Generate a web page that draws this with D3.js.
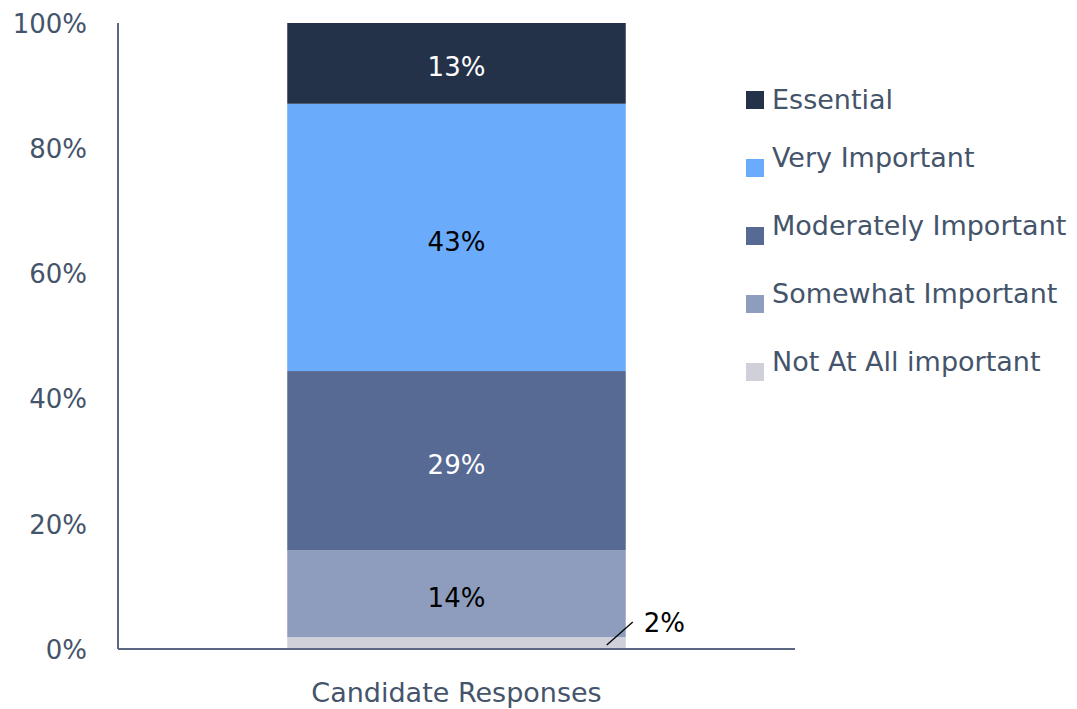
<!DOCTYPE html>
<html>
<head>
<meta charset="utf-8">
<script src="https://cdn.jsdelivr.net/npm/d3@7"></script>
<style>
  html, body { margin: 0; padding: 0; background: #ffffff; }
  svg { display: block; }
  text { font-family: "DejaVu Sans", sans-serif; }
</style>
</head>
<body>
<svg id="chart" width="1077" height="709"></svg>
<script>
// Survey answers, stacked bottom to top
const categories = ["Candidate Responses"];
const levels = ["Not At All important", "Somewhat Important", "Moderately Important", "Very Important", "Essential"];
const shares = [1.9, 13.9, 28.6, 42.7, 12.9];
const levelColors = ["#cfd0d9", "#8e9dbd", "#566a93", "#6aabfc", "#243249"];
const labelColors = ["#000000", "#000000", "#ffffff", "#000000", "#ffffff"];
const yTicks = [0, 20, 40, 60, 80, 100];
const legendOrder = ["Essential", "Very Important", "Moderately Important", "Somewhat Important", "Not At All important"];

const axisText = "#44546a";
const axisLine = "#5b6782";

const svg = d3.select("#chart");
const plot = { left: 118, right: 795, top: 23, bottom: 649 };

const x = d3.scaleBand().domain(categories).range([plot.left, plot.right])
  .paddingInner(0).paddingOuter(0.5);
const y = d3.scaleLinear().domain([0, 100]).range([plot.bottom, plot.top]);
const pct = d => d3.format(".0f")(d) + "%";

// Stack the segments
const row = { cat: categories[0] };
levels.forEach((l, i) => row[l] = shares[i]);
const stacked = d3.stack().keys(levels)([row]);

const bars = svg.append("g");
stacked.forEach((s, i) => {
  const d = s[0];
  bars.append("rect")
    .attr("x", x(d.data.cat))
    .attr("width", x.bandwidth())
    .attr("y", y(d[1]))
    .attr("height", y(d[0]) - y(d[1]))
    .attr("fill", levelColors[i]);
});

// Value labels inside segments (the smallest gets a leader line)
stacked.forEach((s, i) => {
  const d = s[0];
  const mid = (y(d[0]) + y(d[1])) / 2;
  if (shares[i] < 5) {
    const xr = x(d.data.cat) + x.bandwidth();
    bars.append("line")
      .attr("x1", xr - 19).attr("y1", mid + 2)
      .attr("x2", xr + 7).attr("y2", mid - 21)
      .attr("stroke", "#000").attr("stroke-width", 1.3);
    bars.append("text")
      .attr("x", xr + 18).attr("y", mid - 11)
      .attr("font-size", 26).attr("fill", labelColors[i])
      .text(pct(shares[i]));
  } else {
    bars.append("text")
      .attr("x", x(d.data.cat) + x.bandwidth() / 2)
      .attr("y", mid + 4)
      .attr("dy", "0.35em")
      .attr("text-anchor", "middle")
      .attr("font-size", 26).attr("fill", labelColors[i])
      .text(pct(shares[i]));
  }
});

// Y axis
const yAxis = svg.append("g")
  .attr("transform", `translate(${plot.left},0)`)
  .call(d3.axisLeft(y).tickValues(yTicks).tickSize(0).tickPadding(31).tickFormat(d => d + "%"));
yAxis.select(".domain").attr("stroke", axisLine).attr("stroke-width", 2)
  .attr("d", `M0,${plot.top}V${plot.bottom}`);
yAxis.selectAll("text").attr("font-size", 26).attr("fill", axisText)
  .attr("font-family", "DejaVu Sans").attr("dy", "0.36em");

// X axis
const xAxis = svg.append("g")
  .attr("transform", `translate(0,${plot.bottom})`)
  .call(d3.axisBottom(x).tickSize(0).tickPadding(34));
xAxis.select(".domain").attr("stroke", axisLine).attr("stroke-width", 2)
  .attr("d", `M${plot.left},0H${plot.right}`);
xAxis.selectAll("text").attr("font-size", 27).attr("fill", axisText)
  .attr("font-family", "DejaVu Sans").attr("dy", "0.71em");

// Legend
const legendBaselines = [109, 167, 235, 303, 371];
const legend = svg.append("g");
legendOrder.forEach((name, i) => {
  const idx = levels.indexOf(name);
  const top = 91 + i * 68;
  legend.append("rect")
    .attr("x", 746).attr("y", top).attr("width", 18).attr("height", 18)
    .attr("fill", levelColors[idx]);
  legend.append("text")
    .attr("x", 772).attr("y", legendBaselines[i])
    .attr("font-size", 27).attr("fill", axisText)
    .text(name);
});
</script>
</body>
</html>
